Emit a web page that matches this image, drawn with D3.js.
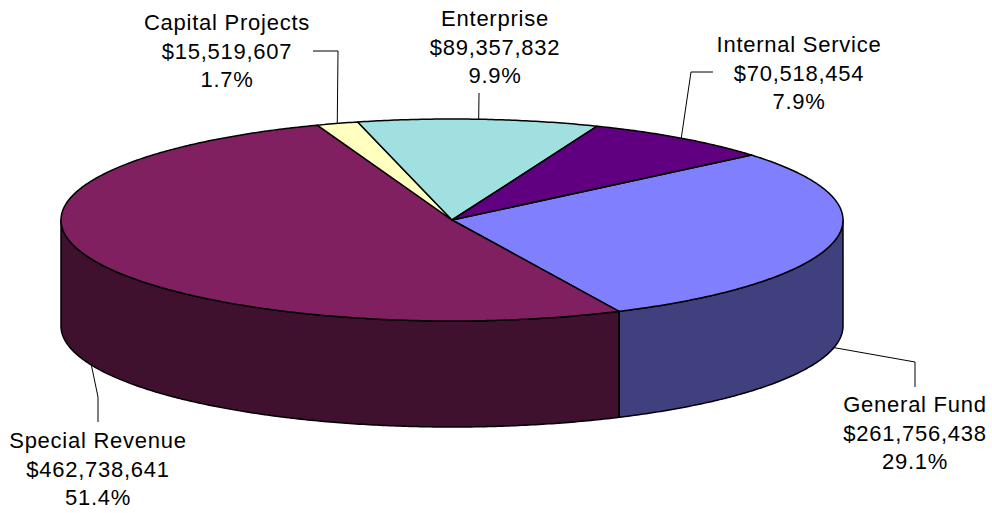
<!DOCTYPE html>
<html>
<head>
<meta charset="utf-8">
<script src="https://cdn.jsdelivr.net/npm/d3@7"></script>
<style>
  body { margin: 0; background: #fff; }
  text { font-family: "Liberation Sans", Arial, sans-serif; font-size: 22px; letter-spacing: 0.75px; fill: #000; }
</style>
</head>
<body>
<svg id="chart" width="992" height="513"></svg>
<script>
// data
const funds = ["General Fund", "Special Revenue", "Capital Projects", "Enterprise", "Internal Service"];
const amounts = [261756438, 462738641, 15519607, 89357832, 70518454];
// percentages as printed on the chart (they are rounded to add up to 100%)
const percents = [29.1, 51.4, 1.7, 9.9, 7.9];
const topColors = ["#8080ff", "#802060", "#ffffc0", "#a0e0e0", "#600080"];
const sideColors = ["#40407f", "#40102f", "#80805f", "#507070", "#300040"];

// where each label sits (centre x, first baseline) and the bends of its leader line
const labelLayout = [
  { x: 915, y: 412, leader: [[915, 362], [915, 387]] },
  { x: 98,  y: 448, leader: [[98, 397], [98, 422]] },
  { x: 227, y: 30,  leader: [[338, 51], [313, 51]] },
  { x: 495, y: 26,  leader: [[479, 93]] },
  { x: 799, y: 52,  leader: [[691, 72], [713, 72]] }
];

const cx = 452, cy = 220, rx = 391, ry = 101, depth = 106;
const firstSlice = 50 * Math.PI / 180;

const svg = d3.select("#chart");
const fmtMoney = v => "$" + d3.format(",")(v);
const fmtPct = v => d3.format(".1f")(v) + "%";

const pie = d3.pie().sort(null).startAngle(firstSlice).endAngle(firstSlice + 2 * Math.PI);
const arcs = pie(amounts).map((d, i) => Object.assign(d, { i: i }));

function pt(a, dy) {
  return [cx + rx * Math.sin(a), cy - ry * Math.cos(a) + (dy || 0)];
}
function sample(a0, a1, dy) {
  const n = Math.max(2, Math.ceil(Math.abs(a1 - a0) / (Math.PI / 360)));
  return d3.range(n + 1).map(k => pt(a0 + (a1 - a0) * k / n, dy));
}
const line = d3.line();

// front walls (only the part facing the viewer)
const walls = svg.append("g").attr("class", "walls");
arcs.forEach(d => {
  [[Math.PI / 2, 3 * Math.PI / 2], [5 * Math.PI / 2, 7 * Math.PI / 2]].forEach(([lo, hi]) => {
    const a0 = Math.max(d.startAngle, lo), a1 = Math.min(d.endAngle, hi);
    if (a1 <= a0) return;
    const pts = sample(a0, a1, 0).concat(sample(a1, a0, depth));
    walls.append("path")
      .attr("d", line(pts) + "Z")
      .attr("fill", sideColors[d.i])
      .attr("stroke", "#000")
      .attr("stroke-width", 1.5)
      .attr("stroke-linejoin", "round");
  });
});

// top faces
svg.append("g").attr("class", "tops")
  .selectAll("path")
  .data(arcs)
  .enter().append("path")
  .attr("d", d => line([[cx, cy]].concat(sample(d.startAngle, d.endAngle, 0))) + "Z")
  .attr("fill", d => topColors[d.i])
  .attr("stroke", "#000")
  .attr("stroke-width", 1.5)
  .attr("stroke-linejoin", "round");

// leader lines
svg.append("g").attr("class", "leaders")
  .selectAll("path")
  .data(arcs)
  .enter().append("path")
  .attr("d", d => {
    const mid = (d.startAngle + d.endAngle) / 2;
    const front = Math.cos(mid) < 0;
    return line([pt(mid, front ? depth : 0)].concat(labelLayout[d.i].leader));
  })
  .attr("fill", "none")
  .attr("stroke", "#000")
  .attr("stroke-width", 1);

// labels
const labels = svg.append("g").attr("class", "labels")
  .selectAll("text")
  .data(arcs)
  .enter().append("text")
  .attr("text-anchor", "middle")
  .attr("x", d => labelLayout[d.i].x)
  .attr("y", d => labelLayout[d.i].y);

labels.each(function (d) {
  const t = d3.select(this);
  [funds[d.i], fmtMoney(amounts[d.i]), fmtPct(percents[d.i])].forEach((s, k) => {
    t.append("tspan")
      .attr("x", labelLayout[d.i].x)
      .attr("dy", k === 0 ? 0 : 28.5)
      .text(s);
  });
});
</script>
</body>
</html>
